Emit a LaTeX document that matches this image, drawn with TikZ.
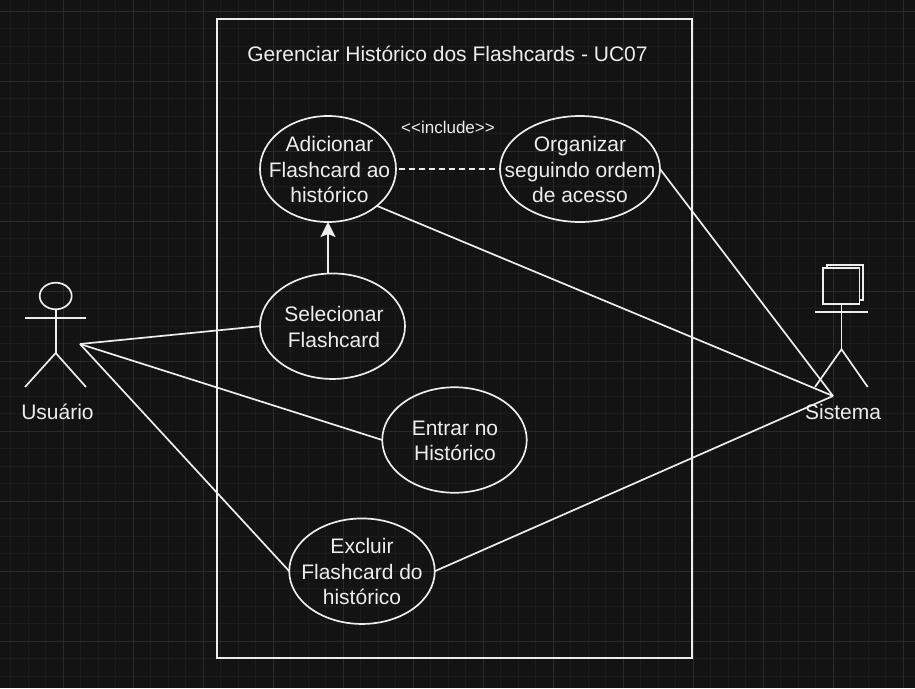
\documentclass[tikz,border=0pt]{standalone}
\usepackage{fontspec}
\setmainfont{Liberation Sans}
\usetikzlibrary{shapes.geometric,arrows.meta}
\definecolor{bgc}{HTML}{131313}
\definecolor{minorg}{HTML}{1C1C1C}
\definecolor{majorg}{HTML}{2A2A2A}
\definecolor{ink}{HTML}{EDEDED}
\tikzset{
  ucase/.style={ellipse,draw=ink,line width=1.7pt,inner sep=0pt,outer sep=0pt},
  uclabel/.style={text=ink,align=center,font=\fontsize{21}{25.6}\selectfont,inner sep=0pt},
  conn/.style={draw=ink,line width=1.7pt},
  stick/.style={draw=ink,line width=1.7pt},
  caption/.style={text=ink,inner sep=0pt,font=\fontsize{21}{25}\selectfont},
}
\begin{document}
\begin{tikzpicture}[x=1pt,y=-1pt]
\useasboundingbox (0,0) rectangle (915,688);
\fill[bgc] (0,0) rectangle (915,688);
% grid
\foreach \i in {0,...,52}{\draw[minorg,line width=0.8pt] ({10.5+17.5*\i},0) -- ({10.5+17.5*\i},688);}
\foreach \i in {0,...,38}{\draw[minorg,line width=0.8pt] (0,{11+17.5*\i}) -- (915,{11+17.5*\i});}
\foreach \i in {0,...,12}{\draw[majorg,line width=1pt] ({63+70*\i},0) -- ({63+70*\i},688);}
\foreach \i in {0,...,9}{\draw[majorg,line width=1pt] (0,{11+70*\i}) -- (915,{11+70*\i});}
% system boundary
\draw[draw=ink,line width=2pt] (217,19) rectangle (692,658);
\node[caption] (title) at (447.5,54) {Gerenciar Histórico dos Flashcards - UC07};
% use cases
\node[ucase,minimum width=136pt,minimum height=106pt,label={[uclabel,yshift=-0.5pt,xshift=1.5pt]center:Adicionar\\Flashcard ao\\histórico}] (adic) at (328,169) {};
\node[ucase,minimum width=160pt,minimum height=106pt,label={[uclabel,yshift=-0.5pt]center:Organizar\\seguindo ordem\\de acesso}] (org) at (580,169) {};
\node[ucase,minimum width=145pt,minimum height=105.5pt,label={[uclabel,yshift=-1pt,xshift=1.5pt]center:Selecionar\\Flashcard}] (sel) at (332.5,326.2) {};
\node[ucase,minimum width=144.5pt,minimum height=105.5pt,label={[uclabel,yshift=-1pt,xshift=0.5pt]center:Entrar no\\Histórico}] (ent) at (454.5,440) {};
\node[ucase,minimum width=145.5pt,minimum height=105.5pt,label={[uclabel,yshift=-0.5pt]center:Excluir\\Flashcard do\\histórico}] (exc) at (362,571.2) {};
\node[text=ink,inner sep=0pt,font=\fontsize{17}{20}\selectfont] (inc) at (448,127) {<{}<include>{}>};
% actor Usuario
\draw[stick] (55.7,296) ellipse (16 and 13.3);
\draw[stick] (55.7,309.3) -- (55.7,353);
\draw[stick] (25,317.7) -- (86,317.7);
\draw[stick] (25,387) -- (55.7,353) -- (86,387);
\node[caption] (usu) at (57.5,412) {Usuário};
\coordinate (ua) at (80,344);
% actor Sistema
\draw[stick] (859.5,300) -- (862.7,300) -- (862.7,264.7) -- (826.7,264.7) -- (826.7,268.3);
\draw[stick] (823.3,268.3) rectangle (859.5,304);
\draw[stick] (841.5,304) -- (841.5,349.3);
\draw[stick] (815,311.7) -- (867.7,311.7);
\draw[stick] (815,387) -- (841.5,349.3) -- (867.7,387);
\node[caption] (sis) at (843,412) {Sistema};
\coordinate (sa) at (833,396);
% connectors
\draw[conn] (ua) -- (sel.west);
\draw[conn] (ua) -- (ent.west);
\draw[conn] (ua) -- (exc.west);
\draw[conn] (sa) -- (adic.-37.8);
\draw[conn] (sa) -- (org.east);
\draw[conn] (sa) -- (exc.east);
\draw[conn,dash pattern=on 5.5pt off 4.5pt,shorten <=3pt] (adic.east) -- (org.west);
\draw[conn,-{Triangle[length=15pt,width=15pt,inset=3pt,fill=ink]}] (sel.north -| adic.south) -- (adic.south);
\end{tikzpicture}
\end{document}
